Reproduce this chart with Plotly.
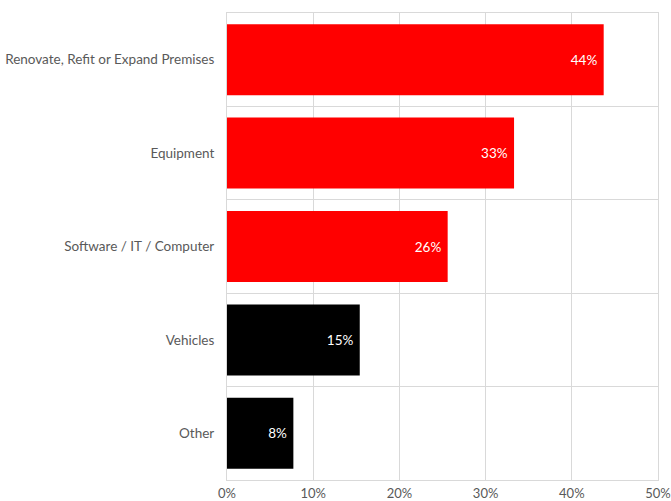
import plotly.graph_objects as go

categories = ["Renovate, Refit or Expand Premises", "Equipment", "Software / IT / Computer", "Vehicles", "Other"]
values = [43.7, 33.3, 25.6, 15.4, 7.7]
bar_colors = ["#ff0000", "#ff0000", "#ff0000", "#000000", "#000000"]
x_ticks = [0, 10, 20, 30, 40, 50]
x_tick_labels = [f"{v}%" for v in x_ticks]

FONT = "Lato"
FS = 13.5

fig = go.Figure(go.Bar(
    y=categories,
    x=values,
    orientation="h",
    marker=dict(color=bar_colors, line=dict(width=0)),
    width=0.76,
    texttemplate="%{x:.0f}% ",
    textposition="inside",
    insidetextanchor="end",
    textfont=dict(family=FONT, size=FS, color="white"),
    cliponaxis=False,
))

fig.update_layout(
    width=671, height=501,
    margin=dict(l=227, r=13, t=13, b=21),
    plot_bgcolor="white", paper_bgcolor="white",
    showlegend=False,
    font=dict(family=FONT, size=FS, color="#595959"),
)
fig.update_xaxes(
    range=[0, 50], tickvals=x_ticks, ticktext=x_tick_labels,
    showgrid=True, gridcolor="#d9d9d9", gridwidth=1,
    zeroline=False, showline=True, linecolor="#d9d9d9", mirror=True, ticks="",
    ticklabelstandoff=1, automargin=False, ticklabeloverflow="allow",
    tickfont=dict(family=FONT, size=13, color="#595959"),
)
fig.update_yaxes(
    autorange="reversed", type="category",
    tickson="boundaries", showgrid=True, gridcolor="#d9d9d9", gridwidth=1,
    showline=True, linecolor="#d9d9d9", mirror=True,
    ticks="", ticklabelstandoff=9, automargin=False,
    tickfont=dict(family=FONT, size=FS, color="#595959"),
)

fig.write_html("out.html")
